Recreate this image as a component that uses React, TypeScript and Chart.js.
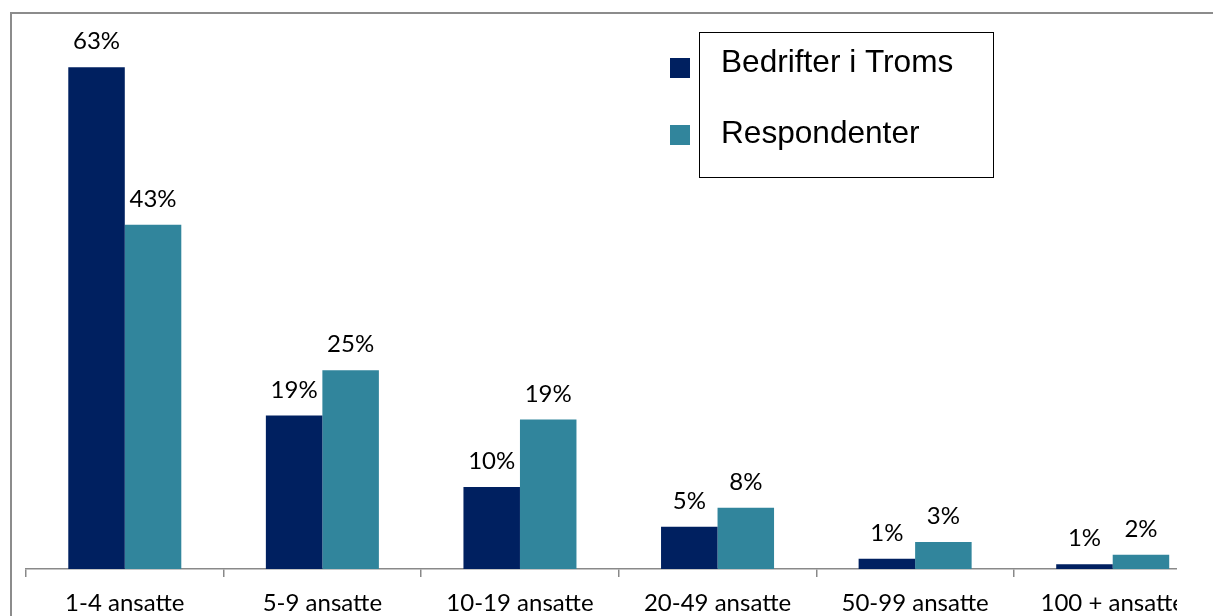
import React, { useEffect, useRef } from "react";
import { Chart, registerables } from "chart.js";

Chart.register(...registerables);

const categories = ["1-4 ansatte", "5-9 ansatte", "10-19 ansatte", "20-49 ansatte", "50-99 ansatte", "100 + ansatte"];
const bedrifterITroms = [63.1, 19.3, 10.3, 5.3, 1.3, 0.6];
const respondenter = [43.3, 25.0, 18.8, 7.7, 3.4, 1.8];
const seriesNames = ["Bedrifter i Troms", "Respondenter"];
const seriesColors = ["#002060", "#31859C"];
const yMax = 70;

const labelFont = "24px Lato";

const dataLabelPlugin = {
  id: "dataLabels",
  afterDatasetsDraw(chart: any) {
    const ctx = chart.ctx;
    ctx.save();
    ctx.font = labelFont;
    ctx.fillStyle = "#000";
    ctx.textAlign = "center";
    ctx.textBaseline = "alphabetic";
    chart.data.datasets.forEach((ds: any, di: number) => {
      const meta = chart.getDatasetMeta(di);
      meta.data.forEach((el: any, i: number) => {
        const v = ds.data[i];
        ctx.fillText(Math.round(v) + "%", el.x, el.y - 18);
      });
    });
    ctx.restore();
  },
};

const legendPlugin = {
  id: "boxLegend",
  afterDraw(chart: any) {
    const ctx = chart.ctx;
    ctx.save();
    ctx.strokeStyle = "#000";
    ctx.lineWidth = 1;
    ctx.strokeRect(699.5, 32.5, 294, 145);
    ctx.font = "31.6px 'Liberation Sans', Arial, sans-serif";
    ctx.textAlign = "left";
    ctx.textBaseline = "alphabetic";
    const markerY = [58, 125];
    const textY = [72, 143];
    chart.data.datasets.forEach((ds: any, i: number) => {
      ctx.fillStyle = ds.backgroundColor;
      ctx.fillRect(670, markerY[i], 20, 20);
      ctx.fillStyle = "#000";
      ctx.fillText(ds.label, 721, textY[i]);
    });
    ctx.restore();
  },
};

export default function App() {
  const ref = useRef<HTMLCanvasElement | null>(null);
  useEffect(() => {
    if (!ref.current) return;
    const chart = new Chart(ref.current, {
      type: "bar",
      data: {
        labels: categories,
        datasets: [
          { label: seriesNames[0], data: bedrifterITroms, backgroundColor: seriesColors[0], categoryPercentage: 0.572, barPercentage: 1.0 },
          { label: seriesNames[1], data: respondenter, backgroundColor: seriesColors[1], categoryPercentage: 0.572, barPercentage: 1.0 },
        ],
      },
      options: {
        responsive: false,
        animation: false,
        devicePixelRatio: 1,
        layout: { padding: { left: 26, right: 1.5, top: 12.5, bottom: 0 } },
        plugins: { legend: { display: false }, tooltip: { enabled: false } },
        scales: {
          x: {
            grid: { drawOnChartArea: false, drawTicks: true, tickLength: 8, color: "#898989", lineWidth: 1.5 },
            border: { display: true, color: "#898989", width: 1.5 },
            ticks: { color: "#000", font: { family: "Lato", size: 24 }, padding: 12, maxRotation: 0, autoSkip: false },
            afterFit: (s: any) => { s.height = 47; },
          },
          y: { display: false, min: 0, max: yMax },
        },
      },
      plugins: [dataLabelPlugin, legendPlugin],
    });
    return () => chart.destroy();
  }, []);

  return (
    <div style={{ position: "fixed", inset: 0, background: "#fff", overflow: "hidden" }}>
      <div style={{ position: "absolute", left: 0, top: 0, width: 1177, height: 616, overflow: "hidden" }}>
        <canvas ref={ref} width={1213} height={616} style={{ display: "block", width: 1213, height: 616 }} />
      </div>
      <div style={{ position: "absolute", left: 10, top: 12, width: 1400, height: 800, borderLeft: "2px solid #8c8c8c", borderTop: "2px solid #8c8c8c", pointerEvents: "none" }} />
    </div>
  );
}
